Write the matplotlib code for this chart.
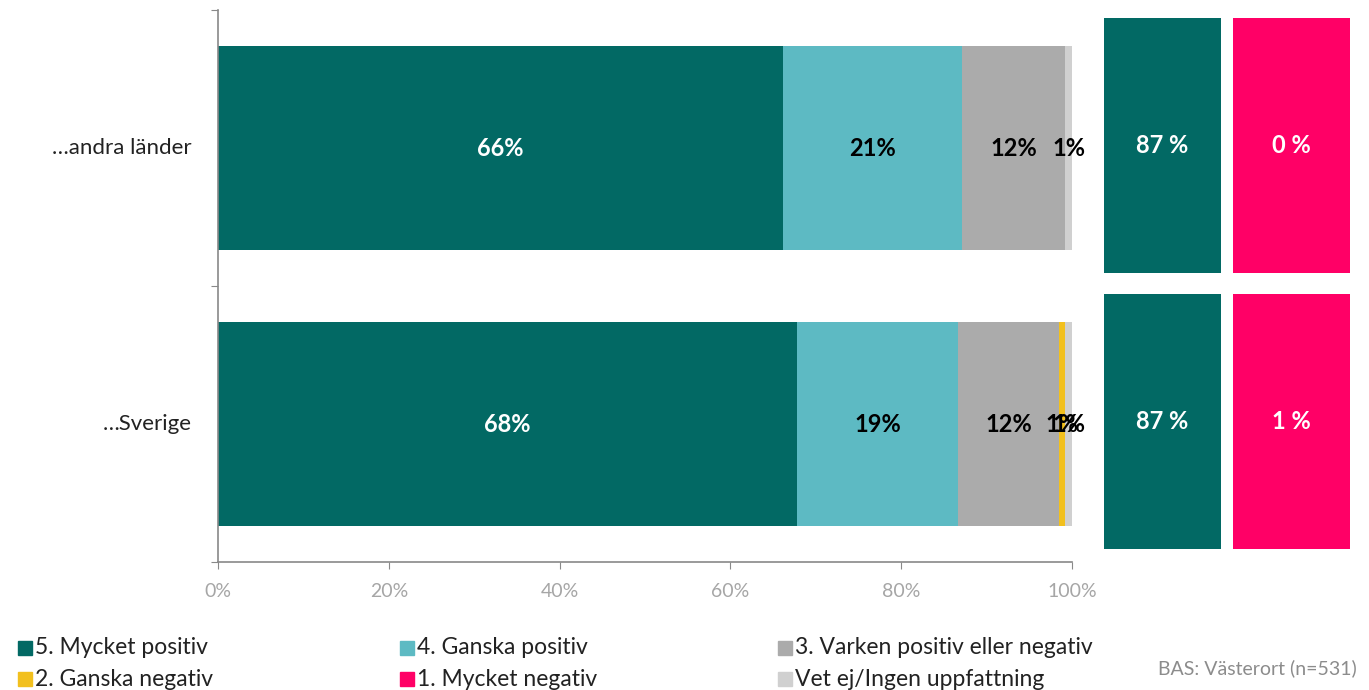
import matplotlib
matplotlib.use('Agg')
import numpy as np
from matplotlib import pyplot as plt
from matplotlib.patches import Rectangle

plt.rcParams['font.family'] = ['Lato', 'DejaVu Sans']

# Data
categories = ['…andra länder', '…Sverige']
series_names = ['5. Mycket positiv', '4. Ganska positiv', '3. Varken positiv eller negativ',
                '2. Ganska negativ', '1. Mycket negativ', 'Vet ej/Ingen uppfattning']
values = np.array([
    [66.2, 20.9, 12.1, 0.0, 0.0, 0.8],
    [67.8, 18.9, 11.8, 0.7, 0.0, 0.8],
])
labels = [
    ['66%', '21%', '12%', '', '', '1%'],
    ['68%', '19%', '12%', '1%', '', '1%'],
]
colors = ['#026964', '#5DBAC3', '#ABABAB', '#F2C01E', '#FF0066', '#D0D0D0']
label_colors = ['white', 'black', 'black', 'black', 'white', 'black']

positive_share = ['87 %', '87 %']
negative_share = ['0 %', '1 %']
box_colors = ['#026964', '#FF0066']

W, H = 1369, 690
fig = plt.figure(figsize=(W / 100, H / 100), dpi=100)

# main stacked bar axes, positioned in pixels
ax = fig.add_axes([218 / W, (H - 562) / H, (1072 - 218) / W, (562 - 10) / H])
y = np.arange(len(categories))
left = np.zeros(len(categories))
for i in range(len(series_names)):
    ax.barh(y, values[:, i], left=left, height=0.74, color=colors[i], label=series_names[i])
    for j in range(len(categories)):
        if labels[j][i]:
            ax.text(left[j] + values[j, i] / 2, y[j], labels[j][i], ha='center', va='center',
                    color=label_colors[i], fontsize=17, fontweight='bold')
    left += values[:, i]

ax.set_xlim(0, 100)
ax.set_ylim(len(categories) - 0.5, -0.5)
ax.set_xticks(np.arange(0, 101, 20))
ax.set_xticklabels([f'{t}%' for t in range(0, 101, 20)])
ax.set_yticks(np.arange(len(categories) + 1) - 0.5)
ax.set_yticklabels([])
for j, cat in enumerate(categories):
    ax.annotate(cat, xy=(0, y[j]), xycoords=('axes fraction', 'data'), xytext=(-19, 0),
                textcoords='offset points', ha='right', va='center', fontsize=16, color='#222222')
for s in ['top', 'right']:
    ax.spines[s].set_visible(False)
for s in ['left', 'bottom']:
    ax.spines[s].set_color('#898989')
    ax.spines[s].set_linewidth(1.2)
ax.tick_params(axis='x', colors='#898989', labelcolor='#a6a6a6', labelsize=14, length=5, pad=10)
ax.tick_params(axis='y', colors='#898989', length=5)

# summary boxes on the right
bx = fig.add_axes([1104 / W, (H - 562) / H, (1350 - 1104) / W, (562 - 10) / H], sharey=ax)
for k, (shares, c) in enumerate(zip([positive_share, negative_share], box_colors)):
    bx.bar(np.full(len(categories), k), 0.924, bottom=y - 0.472, width=0.905, color=c)
    for j in range(len(categories)):
        bx.text(k, y[j] - 0.01, shares[j], ha='center', va='center', color='white',
                fontsize=17, fontweight='bold')
bx.set_xlim(-0.4525, 1.4525)
bx.axis('off')

# legend, drawn in three fixed columns like the original
col_x = [18, 400, 778]
row_y = [648, 679]
for i, name in enumerate(series_names):
    cx = col_x[i % 3]
    cy = row_y[i // 3]
    fig.patches.append(Rectangle((cx / W, (H - cy - 7) / H), 14 / W, 14 / H,
                                 transform=fig.transFigure, color=colors[i]))
    fig.text((cx + 17) / W, (H - cy) / H, name, ha='left', va='center', fontsize=16.5, color='#222222')

fig.text(1357 / W, (H - 668) / H, 'BAS: Västerort (n=531)', ha='right', va='center',
         fontsize=14, color='#8c8c8c')

plt.savefig('out.png', dpi=100)
